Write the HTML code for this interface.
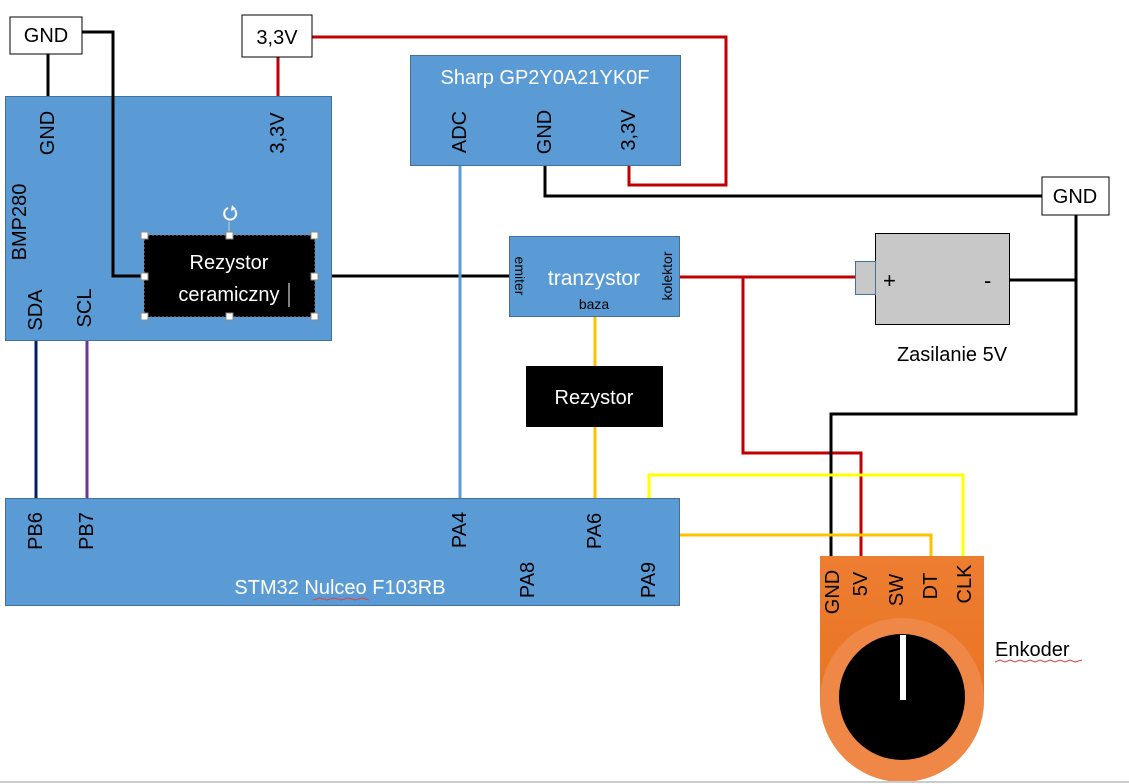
<!DOCTYPE html>
<html><head><meta charset="utf-8"><style>
html,body{margin:0;padding:0;background:#fff;}
svg{display:block;font-family:"Liberation Sans","DejaVu Sans",sans-serif;}
</style></head><body>
<svg width="1129" height="784" viewBox="0 0 1129 784" xmlns="http://www.w3.org/2000/svg">
<defs>
<linearGradient id="og" x1="0" y1="0" x2="0" y2="1"><stop offset="0" stop-color="#ed7d31"/><stop offset="1" stop-color="#e8701a"/></linearGradient>
</defs>
<!-- wires -->
<g fill="none" stroke-width="3">
<polyline points="48,54 48,96" stroke="#000"/>
<polyline points="278,57 278,96" stroke="#c00000"/>
<polyline points="312,37 726,37 726,185 629,185 629,162" stroke="#c00000"/>
<polyline points="545,165 545,196 1042,196" stroke="#000"/>
<polyline points="315,276 510,276" stroke="#000"/>
<polyline points="680,277 856,277" stroke="#c00000"/>
<polyline points="743,277 743,453 861,453 861,556" stroke="#c00000"/>
<polyline points="1010,280 1076,280" stroke="#000"/>
<polyline points="1076,215 1076,414 831,414 831,556" stroke="#000"/>
<polyline points="595,317 595,366" stroke="#ffc000"/>
<polyline points="595,427 595,498" stroke="#ffc000"/>
<polyline points="36,341 36,498" stroke="#002060"/>
<polyline points="87,341 87,498" stroke="#7030a0"/>
<polyline points="460,165 460,498" stroke="#5b9bd5"/>
<polyline points="649,498 649,475 963,475 963,556" stroke="#ffff00"/>
<polyline points="680,535 931,535 931,556" stroke="#ffc000"/>
</g>
<!-- boxes -->
<rect x="10" y="17" width="72" height="37" fill="#fff" stroke="#000" stroke-width="1"/>
<text x="46" y="42" font-size="20" text-anchor="middle">GND</text>
<rect x="242" y="15" width="70" height="42" fill="#fff" stroke="#000"/>
<text x="277" y="44" font-size="20" text-anchor="middle">3,3V</text>
<rect x="1042" y="177" width="67" height="38" fill="#fff" stroke="#000"/>
<text x="1075" y="203" font-size="20" text-anchor="middle">GND</text>

<rect x="5.5" y="96.5" width="326" height="244" fill="#5b9bd5" stroke="#41719c"/>
<polyline points="82,32 113,32 113,276 145,276" stroke="#000" stroke-width="3" fill="none"/>
<rect x="410.5" y="55.5" width="270" height="110" fill="#5b9bd5" stroke="#41719c"/>
<text x="545" y="84" font-size="20" text-anchor="middle" fill="#fff">Sharp GP2Y0A21YK0F</text>
<rect x="509.5" y="236.5" width="170" height="80" fill="#5b9bd5" stroke="#41719c"/>
<text x="594" y="285" font-size="21" text-anchor="middle" fill="#fff">tranzystor</text>
<text x="594" y="309" font-size="14" text-anchor="middle">baza</text>
<text transform="translate(520,276) rotate(90)" font-size="14" text-anchor="middle" dominant-baseline="central">emiter</text>
<text transform="translate(667,276) rotate(-90)" font-size="14" text-anchor="middle" dominant-baseline="central">kolektor</text>
<rect x="5.5" y="498.5" width="674" height="107" fill="#5b9bd5" stroke="#41719c"/>
<text x="340" y="594" font-size="20" text-anchor="middle" fill="#fff">STM32 Nulceo F103RB</text>
<polyline points="313,600 320,598 327,600 334,598 341,600 348,598 355,600 362,598 369,600" fill="none" stroke="#e04040" stroke-width="1"/>

<rect x="144" y="235" width="171" height="82" fill="#000" stroke="#888" stroke-dasharray="2,2"/>
<text x="229" y="269" font-size="20" text-anchor="middle" fill="#fff">Rezystor</text>
<text x="229" y="301" font-size="20" text-anchor="middle" fill="#fff">ceramiczny</text>
<line x1="289" y1="283" x2="289" y2="307" stroke="#fff" stroke-width="1"/>
<line x1="229" y1="222" x2="229" y2="235" stroke="#ccc" stroke-width="1"/>
<g fill="#fff" stroke="#888" stroke-width="1">
<rect x="141" y="232" width="7" height="7"/><rect x="226" y="232" width="7" height="7"/><rect x="311" y="232" width="7" height="7"/>
<rect x="141" y="273" width="7" height="7"/><rect x="311" y="273" width="7" height="7"/>
<rect x="141" y="313" width="7" height="7"/><rect x="226" y="313" width="7" height="7"/><rect x="311" y="313" width="7" height="7"/>
</g>
<path d="M235,210 A6,6 0 1 1 228,208" fill="none" stroke="#fff" stroke-width="2"/>
<path d="M232,205 L236,209 L231,211 Z" fill="#fff"/>

<rect x="526" y="366" width="137" height="61" fill="#000"/>
<text x="594" y="404" font-size="20" text-anchor="middle" fill="#fff">Rezystor</text>

<!-- battery -->
<rect x="875.5" y="233.5" width="134" height="91" fill="#c8c8c8" stroke="#000"/>
<rect x="855.5" y="261.5" width="20" height="33" fill="#c8c8c8" stroke="#41719c"/>
<text x="883" y="288" font-size="22">+</text>
<text x="984" y="288" font-size="22">-</text>
<text x="952" y="361" font-size="20" text-anchor="middle">Zasilanie 5V</text>

<!-- encoder -->
<path d="M820,556 H984 V700 A82,82 0 0 1 820,700 Z" fill="url(#og)"/>
<circle cx="902" cy="700" r="82" fill="#ef8746"/>
<circle cx="902" cy="697" r="63" fill="#000"/>
<rect x="900" y="635" width="6" height="65" fill="#fff"/>
<text x="995" y="656" font-size="20">Enkoder</text>
<polyline points="995,662 1000,660 1005,662 1010,660 1015,662 1020,660 1025,662 1030,660 1035,662 1040,660 1045,662 1050,660 1055,662 1060,660 1065,662 1070,660 1075,662 1082,660" fill="none" stroke="#e04040" stroke-width="1"/>

<!-- rotated labels -->
<g font-size="20" text-anchor="middle" dominant-baseline="central">
<text transform="translate(48,133) rotate(-90)">GND</text>
<text transform="translate(278,133) rotate(-90)">3,3V</text>
<text transform="translate(20,222) rotate(-90)">BMP280</text>
<text transform="translate(36,310) rotate(-90)">SDA</text>
<text transform="translate(85,308) rotate(-90)">SCL</text>
<text transform="translate(460,132) rotate(-90)">ADC</text>
<text transform="translate(545,132) rotate(-90)">GND</text>
<text transform="translate(629,130) rotate(-90)">3,3V</text>
<text transform="translate(36,531) rotate(-90)">PB6</text>
<text transform="translate(87,531) rotate(-90)">PB7</text>
<text transform="translate(460,530) rotate(-90)">PA4</text>
<text transform="translate(595,531) rotate(-90)">PA6</text>
<text transform="translate(528,580) rotate(-90)">PA8</text>
<text transform="translate(649,580) rotate(-90)">PA9</text>
<text transform="translate(833,592) rotate(-90)">GND</text>
<text transform="translate(861,584) rotate(-90)">5V</text>
<text transform="translate(897,590) rotate(-90)">SW</text>
<text transform="translate(931,586) rotate(-90)">DT</text>
<text transform="translate(965,584) rotate(-90)">CLK</text>
</g>
<line x1="0" y1="782" x2="1129" y2="782" stroke="#ccc" stroke-width="2"/>
</svg>
</body></html>
